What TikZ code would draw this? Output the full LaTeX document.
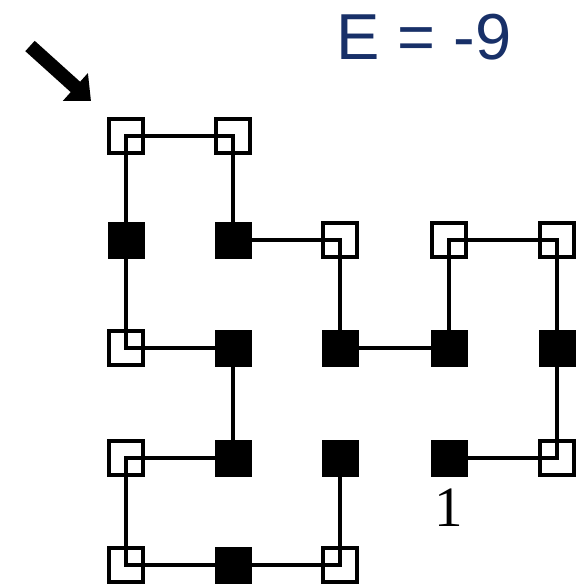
\documentclass[tikz,border=0pt]{standalone}
\usepackage{fontspec}
\setmainfont{Liberation Serif}
\newfontfamily\labelsans{Liberation Sans}
\usetikzlibrary{arrows.meta}
\definecolor{navy}{RGB}{24,48,104}
\begin{document}
\begin{tikzpicture}[x=1pt,y=-1pt,
  polar/.style={draw=black,line width=4.4pt,minimum size=33.5pt,inner sep=0pt},
  hydro/.style={fill=black,minimum size=37pt,inner sep=0pt},
  bond/.style={line width=3.8pt,black},
  pointer/.style={line width=14pt,-{Triangle[length=21pt,width=36pt]}}]
\useasboundingbox (0,0) rectangle (588,585);
% lattice sites: columns 126,233,340,449,557; rows 136,240,348,458,565
% hydrophobic residues
\node[hydro] (n01) at (126,240) {};
\node[hydro] (n11) at (233,240) {};
\node[hydro] (n12) at (233,348) {};
\node[hydro] (n22) at (340,348) {};
\node[hydro] (n32) at (449,348) {};
\node[hydro] (n42) at (557,348) {};
\node[hydro] (n13) at (233,458) {};
\node[hydro] (n23) at (340,458) {};
\node[hydro] (n33) at (449,458) {};
\node[hydro] (n14) at (233,565) {};
% polar residues
\node[polar] (n00) at (126,136) {};
\node[polar] (n10) at (233,136) {};
\node[polar] (n21) at (340,240) {};
\node[polar] (n31) at (449,240) {};
\node[polar] (n41) at (557,240) {};
\node[polar] (n02) at (126,348) {};
\node[polar] (n03) at (126,458) {};
\node[polar] (n43) at (557,458) {};
\node[polar] (n04) at (126,565) {};
\node[polar] (n24) at (340,565) {};
% backbone of the chain, from residue 1 onward
\draw[bond] (n33.center) -- (n43.center) -- (n42.center) -- (n41.center)
  -- (n31.center) -- (n32.center) -- (n22.center) -- (n21.center)
  -- (n11.center) -- (n10.center) -- (n00.center) -- (n01.center)
  -- (n02.center) -- (n12.center) -- (n13.center) -- (n03.center)
  -- (n04.center) -- (n14.center) -- (n24.center) -- (n23.center);
% residue index
\node[font=\fontsize{57}{60}\selectfont,inner sep=0pt] (one) at (449,508) {1};
% energy of the fold
\node[font=\labelsans\fontsize{65}{70}\selectfont,text=navy,inner sep=0pt] (energy) at (424,37) {E = -9};
% arrow marking the chain site
\coordinate (tail) at (30,46);
\coordinate (tip) at (91,101);
\draw[pointer] (tail) -- (tip);
\end{tikzpicture}
\end{document}
